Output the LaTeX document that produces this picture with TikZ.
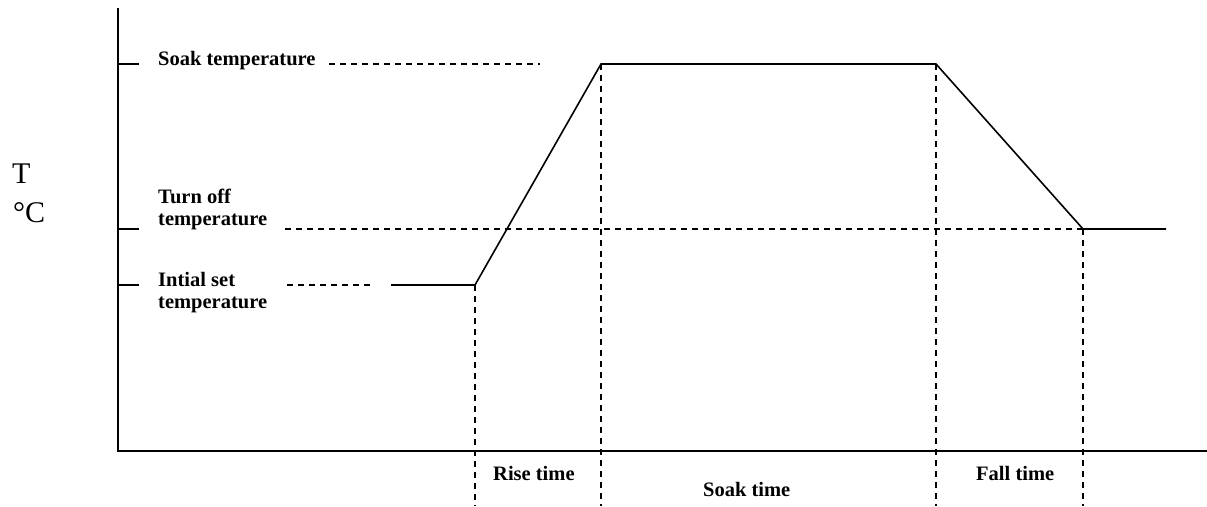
\documentclass[tikz,border=0pt]{standalone}
\usepackage{fontspec}
\setmainfont{Liberation Serif}
\begin{document}
\begin{tikzpicture}[x=1pt,y=-1pt,
  axisline/.style={line width=1.6pt},
  profile/.style={line width=1.6pt},
  guide/.style={line width=1.5pt,dash pattern=on 6pt off 5pt},
  lbl/.style={font=\fontsize{20.5}{22}\selectfont\bfseries,inner sep=0pt,align=left},
  unit/.style={font=\fontsize{30}{39}\selectfont,inner sep=0pt,align=left}]
\useasboundingbox (0,0) rectangle (1207,506);

% axes
\coordinate (ytop) at (118,8);
\coordinate (origin) at (118,451);
\coordinate (xend) at (1207,451);
\draw[axisline] (ytop) -- (origin) -- (xend);

% temperature ticks
\coordinate (tsoak) at (118,64);
\coordinate (tsoakE) at (139,64);
\coordinate (toff) at (118,229);
\coordinate (toffE) at (139,229);
\coordinate (tinit) at (118,285);
\coordinate (tinitE) at (139,285);
\draw[axisline] (tsoak) -- (tsoakE) (toff) -- (toffE) (tinit) -- (tinitE);

% axis label
\node[unit,anchor=base west] (tlabel) at (12,183) {T};
\node[unit,anchor=base west] (clabel) at (13,222) {°C};

% level labels (base anchor sits on the last line)
\node[lbl,anchor=base west] (soaklbl) at (158,65) {Soak temperature};
\node[lbl,anchor=base west] (offlbl) at (158,225) {Turn off\\temperature};
\node[lbl,anchor=base west] (initlbl) at (158,308) {Intial set\\temperature};

% profile corners
\coordinate (p0) at (391,285);
\coordinate (p1) at (475,285);
\coordinate (p2) at (601,64);
\coordinate (p3) at (936,64);
\coordinate (p4) at (1083,229);
\coordinate (p5) at (1166,229);
\draw[profile,line join=miter] (p0) -- (p1) -- (p2) -- (p3) -- (p4) -- (p5);

% horizontal guides
\coordinate (gs0) at (329,64);
\coordinate (gs1) at (540,64);
\coordinate (go0) at (285,229);
\coordinate (gi0) at (287,285);
\coordinate (gi1) at (372,285);
\draw[guide] (gs0) -- (gs1);
\draw[guide] (go0) -- (p4);
\draw[guide] (gi0) -- (gi1);

% vertical guides
\coordinate (b1) at (475,506);
\coordinate (b2) at (601,506);
\coordinate (b3) at (936,506);
\coordinate (b4) at (1083,506);
\draw[guide] (p1) -- (b1);
\draw[guide] (p2) -- (b2);
\draw[guide] (p3) -- (b3);
\draw[guide] (p4) -- (b4);

% time labels
\node[lbl,anchor=base west] (riselbl) at (493,480) {Rise time};
\node[lbl,anchor=base west] (soaktlbl) at (703,496) {Soak time};
\node[lbl,anchor=base west] (falllbl) at (976,480) {Fall time};
\end{tikzpicture}
\end{document}
